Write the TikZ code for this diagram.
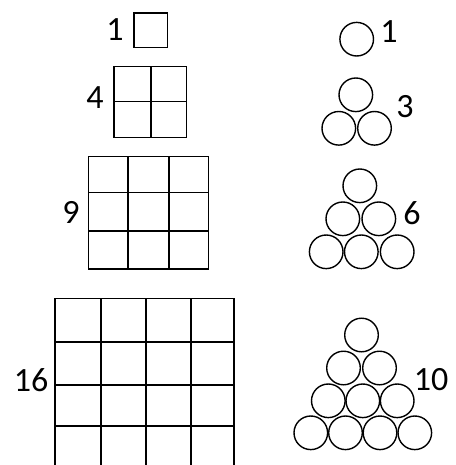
\documentclass[tikz,border=0pt]{standalone}
\usepackage{fontspec}
\setmainfont{Carlito}
\begin{document}
\begin{tikzpicture}[x=1pt,y=-1pt,
  grid/.style={line width=1.6pt,line cap=rect},
  ball/.style={circle,draw,line width=1.4pt,minimum size=33.6pt,inner sep=0pt},
  lab/.style={inner sep=0pt,font=\fontsize{34}{40}\selectfont}]
\useasboundingbox (0,0) rectangle (455,465);
\clip (0,0) rectangle (455,465);
% squares
\draw[grid] (134,13) rectangle (167.5,47.5);
\draw[grid] (114,66.5) rectangle (186.5,137.5);
\draw[grid] (150.7,66.5) -- (150.7,137.5);
\draw[grid] (114,101.7) -- (186.5,101.7);
\draw[grid] (88.5,156.5) rectangle (208.5,269.2);
\foreach \x in {127.7,169} \draw[grid] (\x,156.5) -- (\x,269.2);
\foreach \y in {192.3,230.7} \draw[grid] (88.5,\y) -- (208.5,\y);
\draw[grid] (54.8,470) -- (54.8,298.5) -- (234.2,298.5) -- (234.2,470);
\foreach \x in {100.7,145.7,191} \draw[grid] (\x,298.5) -- (\x,470);
\foreach \y in {341.7,385,426} \draw[grid] (54.8,\y) -- (234.2,\y);
% labels squares
\node[lab] (s1) at (115,30) {1};
\node[lab] (s4) at (95,98) {4};
\node[lab] (s9) at (71,212) {9};
\node[lab] (s16) at (31,380) {16};
% circles
\node[ball] (a1) at (356.7,39.2) {};
\node[ball] (b1) at (355.8,94.8) {};
\node[ball] (b2) at (338.8,128.3) {};
\node[ball] (b3) at (374.5,128.3) {};
\node[ball] (c1) at (359.8,185.8) {};
\node[ball] (c2) at (342.8,218.8) {};
\node[ball] (c3) at (378.8,218.8) {};
\node[ball] (c4) at (326.2,251.8) {};
\node[ball] (c5) at (361.3,251.8) {};
\node[ball] (c6) at (397.2,251.8) {};
\node[ball] (d1) at (361.5,335) {};
\node[ball] (d2) at (343.5,368) {};
\node[ball] (d3) at (379.5,368) {};
\node[ball] (d4) at (328.3,400.8) {};
\node[ball] (d5) at (362.8,400.8) {};
\node[ball] (d6) at (397.2,400.8) {};
\node[ball] (d7) at (310.8,432.8) {};
\node[ball] (d8) at (345.5,432.8) {};
\node[ball] (d9) at (380,432.8) {};
\node[ball] (d10) at (414.8,432.8) {};
% labels circles
\node[lab] (t1) at (389,32) {1};
\node[lab] (t3) at (405,106.7) {3};
\node[lab] (t6) at (412,213.3) {6};
\node[lab] (t10) at (431,380) {10};
\end{tikzpicture}
\end{document}
